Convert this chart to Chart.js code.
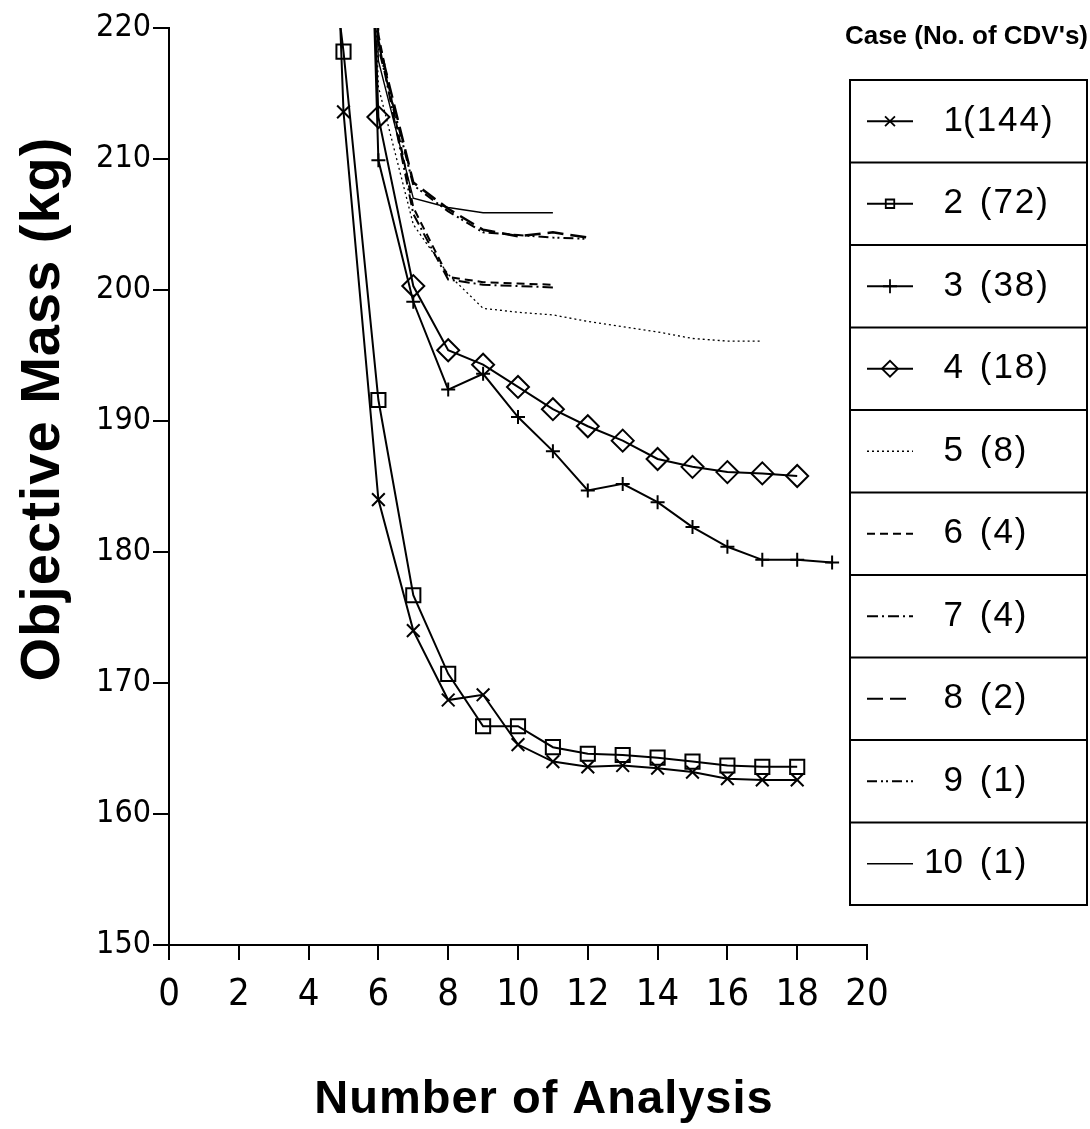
<!DOCTYPE html>
<html>
<head>
<meta charset="utf-8">
<script src="https://cdn.jsdelivr.net/npm/chart.js@4.4.1/dist/chart.umd.min.js"></script>
<style>
  html, body { margin: 0; padding: 0; background: #fff; }
  #wrap { width: 1090px; height: 1129px; }
</style>
</head>
<body>
<div id="wrap"><canvas id="massChart" width="1090" height="1129"></canvas></div>
<script>
// number of analysis (x), shared by all cases
const analysisNo = [4, 5, 6, 7, 8, 9, 10, 11, 12, 13, 14, 15, 16, 17, 18, 19];

// objective mass (kg) per case, null where the case has no analysis
const mass1 = [285, 213.6, 184.0, 174.0, 168.7, 169.1, 165.3, 164.0, 163.6, 163.7, 163.5, 163.2, 162.7, 162.6, 162.6, null];
const mass2 = [240, 218.2, 191.6, 176.7, 170.7, 166.7, 166.7, 165.1, 164.6, 164.5, 164.3, 164.0, 163.7, 163.6, 163.6, null];
const mass3 = [null, 300, 209.9, 199.1, 192.4, 193.6, 190.3, 187.7, 184.7, 185.2, 183.8, 181.9, 180.4, 179.4, 179.4, 179.2];
const mass4 = [null, 295, 213.2, 200.3, 195.4, 194.3, 192.6, 190.9, 189.6, 188.5, 187.1, 186.5, 186.1, 186.0, 185.8, null];
const mass5 = [null, 290, 215.5, 205.0, 201.2, 198.6, 198.3, 198.1, 197.6, 197.2, 196.8, 196.3, 196.1, 196.1, null, null];
const mass6 = [null, 300, 219.5, 206.3, 201.0, 200.6, 200.5, 200.4, null, null, null, null, null, null, null, null];
const mass7 = [null, 300, 219.0, 205.8, 200.8, 200.4, 200.3, 200.2, null, null, null, null, null, null, null, null];
const mass8 = [null, 300, 219.0, 208.2, 206.2, 204.6, 204.1, 204.4, 204.0, null, null, null, null, null, null, null];
const mass9 = [null, 300, 218.5, 208.0, 206.0, 204.4, 204.2, 204.0, 203.9, null, null, null, null, null, null, null];
const mass10 = [null, 300, 217.5, 207.0, 206.3, 205.9, 205.9, 205.9, null, null, null, null, null, null, null, null];

const caseNos = ["1", "2", "3", "4", "5", "6", "7", "8", "9", "10"];
const cdvCounts = [144, 72, 38, 18, 8, 4, 4, 2, 1, 1];

const xTicks = [0, 2, 4, 6, 8, 10, 12, 14, 16, 18, 20];
const yTicks = [150, 160, 170, 180, 190, 200, 210, 220];

const narrow = "'Liberation Sans Narrow', 'DejaVu Sans Condensed', sans-serif";
const sans = "'Liberation Sans', Arial, sans-serif";

function toPoints(values) {
  const pts = [];
  values.forEach((v, i) => { if (v !== null) pts.push({ x: analysisNo[i], y: v }); });
  return pts;
}

// line look of every case, same order as caseNos
const styles = [
  { pointStyle: "crossRot", radius: 9, legendRadius: 7, width: 2, dash: [] },
  { pointStyle: "rect", radius: 10, legendRadius: 6, width: 2, dash: [] },
  { pointStyle: "cross", radius: 7, legendRadius: 7, width: 2, dash: [] },
  { pointStyle: "rectRot", radius: 11, legendRadius: 8, width: 2, dash: [] },
  { pointStyle: false, radius: 0, width: 1.3, dash: [2, 3] },
  { pointStyle: false, radius: 0, width: 2, dash: [8, 5] },
  { pointStyle: false, radius: 0, width: 2, dash: [11, 4, 2, 4] },
  { pointStyle: false, radius: 0, width: 2.5, dash: [16, 7] },
  { pointStyle: false, radius: 0, width: 2, dash: [10, 4, 2, 3, 2, 4] },
  { pointStyle: false, radius: 0, width: 1.4, dash: [] },
];
const allMass = [mass1, mass2, mass3, mass4, mass5, mass6, mass7, mass8, mass9, mass10];

const datasets = allMass.map((m, i) => ({
  label: caseNos[i] + " (" + cdvCounts[i] + ")",
  data: toPoints(m),
  borderColor: "#000",
  borderWidth: styles[i].width,
  borderDash: styles[i].dash,
  pointStyle: styles[i].pointStyle || "circle",
  pointRadius: styles[i].radius,
  pointBorderWidth: 2,
  pointBorderColor: "#000",
  pointBackgroundColor: "rgba(0,0,0,0)",
  fill: false,
  tension: 0,
}));

// boxed legend on the right
const caseTable = {
  id: "caseTable",
  afterDraw(chart) {
    const ctx = chart.ctx;
    const left = 850, right = 1087, top = 80, bottom = 905;
    const rowH = (bottom - top) / caseNos.length;
    ctx.save();
    ctx.fillStyle = "#000";
    ctx.strokeStyle = "#000";
    ctx.font = "bold 26px " + sans;
    ctx.textAlign = "right";
    ctx.textBaseline = "alphabetic";
    ctx.fillText("Case (No. of CDV's)", 1088, 44);

    ctx.lineWidth = 2;
    ctx.setLineDash([]);
    ctx.strokeRect(left, top, right - left, bottom - top);
    for (let i = 1; i < caseNos.length; i++) {
      ctx.beginPath();
      ctx.moveTo(left, top + i * rowH);
      ctx.lineTo(right, top + i * rowH);
      ctx.stroke();
    }

    caseNos.forEach((c, i) => {
      const cy = top + (i + 0.5) * rowH;
      const st = styles[i];
      ctx.lineWidth = Math.min(st.width, 2);
      ctx.setLineDash(st.dash);
      ctx.beginPath();
      ctx.moveTo(867, cy);
      ctx.lineTo(913, cy);
      ctx.stroke();
      ctx.setLineDash([]);
      if (st.pointStyle) {
        ctx.fillStyle = "rgba(0,0,0,0)";
        ctx.lineWidth = 1.8;
        Chart.helpers.drawPoint(ctx, { pointStyle: st.pointStyle, radius: st.legendRadius, rotation: 0, borderWidth: 1.8 }, 890, cy);
      }
      ctx.fillStyle = "#000";
      ctx.font = "35px " + sans;
      ctx.textBaseline = "middle";
      ctx.textAlign = "right";
      ctx.fillText(c, 963, cy);
      ctx.textAlign = "left";
      if ("letterSpacing" in ctx) ctx.letterSpacing = "2px";
      ctx.fillText((i === 0 ? "" : " ") + "(" + cdvCounts[i] + ")", i === 0 ? 963 : 968, cy);
      if ("letterSpacing" in ctx) ctx.letterSpacing = "0px";
    });
    ctx.restore();
  },
};

// axis titles placed like the original figure
const axisTitles = {
  id: "axisTitles",
  afterDraw(chart) {
    const ctx = chart.ctx;
    ctx.save();
    ctx.fillStyle = "#000";
    ctx.textAlign = "center";
    ctx.textBaseline = "alphabetic";
    ctx.font = "bold 47px " + sans;
    if ("letterSpacing" in ctx) ctx.letterSpacing = "1px";
    ctx.fillText("Number of Analysis", 544, 1113);
    ctx.font = "bold 56px " + sans;
    ctx.translate(59, 409);
    ctx.rotate(-Math.PI / 2);
    ctx.fillText("Objective Mass (kg)", 0, 0);
    ctx.restore();
  },
};

new Chart(document.getElementById("massChart"), {
  type: "line",
  data: { datasets },
  options: {
    responsive: false,
    animation: false,
    devicePixelRatio: 1,
    events: [],
    layout: { padding: { top: 28, right: 223, left: 0, bottom: 0 } },
    plugins: { legend: { display: false }, tooltip: { enabled: false } },
    scales: {
      x: {
        type: "linear",
        min: 0,
        max: 20,
        afterFit: (s) => { s.height = 184; },
        afterBuildTicks: (s) => { s.ticks = xTicks.map((v) => ({ value: v })); },
        grid: { drawOnChartArea: false, drawTicks: true, tickLength: 15, color: "#000", lineWidth: 2 },
        border: { display: true, color: "#000", width: 2 },
        ticks: { color: "#000", autoSkip: false, maxRotation: 0, padding: 12, font: { family: narrow, size: 38 } },
      },
      y: {
        type: "linear",
        min: 150,
        max: 220,
        afterFit: (s) => { s.width = 169; },
        afterBuildTicks: (s) => { s.ticks = yTicks.map((v) => ({ value: v })); },
        grid: { drawOnChartArea: false, drawTicks: true, tickLength: 16, color: "#000", lineWidth: 2 },
        border: { display: true, color: "#000", width: 2 },
        ticks: { color: "#000", padding: 2, font: { family: narrow, size: 32 } },
      },
    },
  },
  plugins: [caseTable, axisTitles],
});
</script>
</body>
</html>
